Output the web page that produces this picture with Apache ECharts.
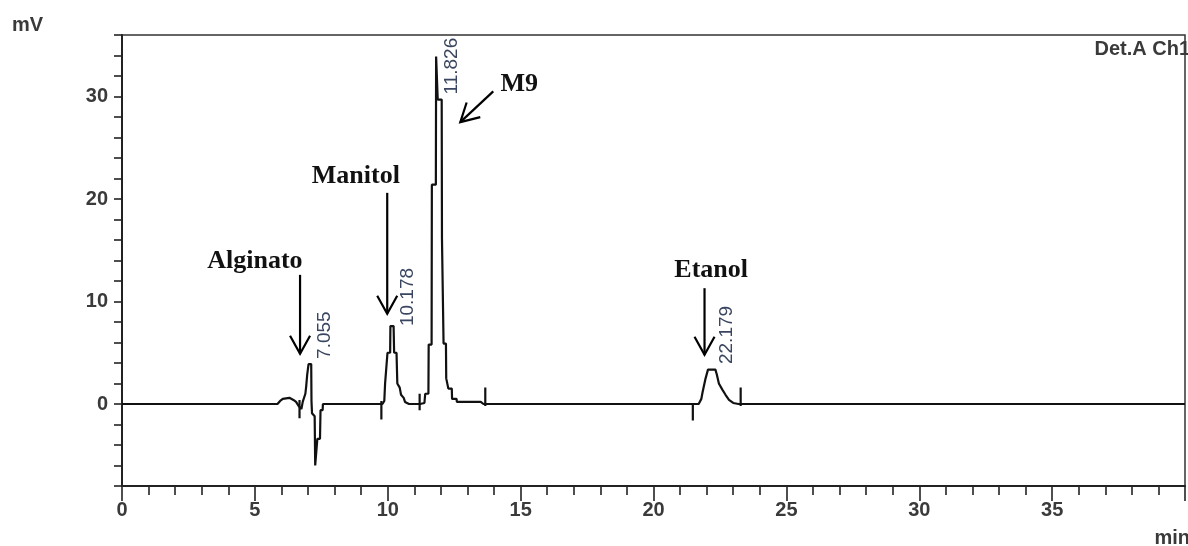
<!DOCTYPE html>
<html>
<head>
<meta charset="utf-8">
<script src="https://cdn.jsdelivr.net/npm/echarts@6/dist/echarts.min.js"></script>
<style>
html, body { margin: 0; padding: 0; background: #fff; }
#mainChart { width: 1188px; height: 546px; }
</style>
</head>
<body>
<div id="mainChart"></div>
<script>
// chromatogram trace (time in min, signal in mV)
var traceTime = [0, 5.85, 5.95, 6.05, 6.3, 6.45, 6.55, 6.65, 6.75, 6.8, 6.9, 6.93, 6.97, 7.0, 7.02, 7.12, 7.13, 7.15, 7.25, 7.27, 7.33, 7.35, 7.45, 7.47, 7.55, 7.56,
    9.8, 9.87, 9.9, 9.97, 9.99, 10.09, 10.1, 10.22, 10.24, 10.33, 10.36, 10.45, 10.5, 10.6, 10.65, 10.8,
    11.22, 11.38, 11.41, 11.53, 11.54, 11.65, 11.66, 11.81, 11.82, 11.87, 11.88, 12.03, 12.04, 12.09, 12.1, 12.19, 12.2, 12.27, 12.28, 12.41, 12.42, 12.59, 12.6, 13.5, 13.6,
    21.7, 21.8, 21.85, 21.95, 22.05, 22.33, 22.38, 22.46, 22.59, 22.71, 22.84, 23.0, 23.2, 40];
var traceSignal = [0, 0, 0.3, 0.5, 0.6, 0.4, 0.2, -0.2, -0.5, 0.2, 1.0, 1.7, 2.9, 3.0, 3.9, 3.9, 0.3, -0.9, -1.2, -6.0, -6.0, -3.4, -3.4, -0.6, -0.6, 0,
    0, 0.3, 2.0, 2.0, 5.0, 5.0, 7.6, 7.6, 5.0, 5.0, 2.0, 1.6, 0.9, 0.6, 0.2, 0,
    0, 0.1, 1.0, 1.0, 5.8, 5.8, 21.4, 21.4, 33.9, 33.9, 29.7, 29.7, 16.2, 16.2, 5.9, 5.9, 2.5, 2.5, 1.5, 1.5, 0.5, 0.5, 0.2, 0.2, 0,
    0, 0.5, 1.2, 2.4, 3.35, 3.35, 2.9, 2.0, 1.4, 0.9, 0.4, 0.1, 0, 0];

// integration markers (start / end of each peak)
var markerTime = [6.68, 9.76, 11.2, 13.67, 21.48, 23.28];
var markerHigh = [0.4, 0.3, 1.0, 1.6, 0, 1.6];
var markerLow = [-1.4, -1.5, -0.6, -0.2, -1.6, -0.2];

// retention times printed at the peaks
var peakTime = [7.055, 10.178, 11.826, 22.179];
var peakLabel = ['7.055', '10.178', '11.826', '22.179'];
var peakLabelBase = [4.4, 7.6, 30.2, 3.9];

// compound names and their arrows (data coordinates)
var compoundName = ['Alginato', 'Manitol', 'M9', 'Etanol'];
var compoundLabelAt = [[5.0, 13.9], [8.8, 22.2], [14.95, 31.2], [22.17, 13.0]];
var arrowFrom = [[6.7, 12.6], [9.98, 20.6], [13.97, 30.5], [21.92, 11.3]];
var arrowTo = [[6.7, 4.9], [9.98, 8.8], [12.73, 27.5], [21.92, 4.8]];

var xTicks = [0, 5, 10, 15, 20, 25, 30, 35];
var yTicks = [0, 10, 20, 30];

var traceData = [];
for (var i = 0; i < traceTime.length; i++) {
    traceData.push([traceTime[i], traceSignal[i]]);
}
var markerData = [];
for (var j = 0; j < markerTime.length; j++) {
    markerData.push([markerTime[j], markerHigh[j]]);
    markerData.push([markerTime[j], markerLow[j]]);
    markerData.push('-');
}

var myChart = echarts.init(document.getElementById('mainChart'));

var axisFont = 'Liberation Sans, Arial';
var option = {
    animation: false,
    grid: {
        left: 122, right: 2, top: 35, bottom: 60,
        show: true, borderColor: '#333', borderWidth: 1.5, backgroundColor: '#fff'
    },
    xAxis: {
        type: 'value', min: 0, max: 40, interval: 5,
        axisLine: { onZero: false, lineStyle: { color: '#222', width: 2 } },
        axisTick: { show: true, length: 15, lineStyle: { color: '#222', width: 1.6 } },
        minorTick: { show: true, splitNumber: 5, length: 9, lineStyle: { color: '#222', width: 1.6 } },
        splitLine: { show: false },
        axisLabel: {
            margin: 14, fontSize: 20, fontWeight: 'bold', color: '#3a3a3a', fontFamily: axisFont,
            formatter: function (v) { return xTicks.indexOf(v) > -1 ? String(v) : ''; }
        }
    },
    yAxis: {
        type: 'value', min: -8, max: 36, interval: 2,
        axisLine: { show: true, onZero: false, lineStyle: { color: '#222', width: 2 } },
        axisTick: { show: true, length: 8, lineStyle: { color: '#222', width: 1.6 } },
        splitLine: { show: false },
        axisLabel: {
            margin: 14, fontSize: 20, fontWeight: 'bold', color: '#3a3a3a', fontFamily: axisFont,
            formatter: function (v) { return yTicks.indexOf(v) > -1 ? String(v) : ''; }
        }
    },
    series: [
        {
            name: 'Det.A Ch1', type: 'line', data: traceData, showSymbol: false,
            lineStyle: { color: '#111', width: 2.2 }
        },
        {
            name: 'markers', type: 'line', data: markerData, showSymbol: false, connectNulls: false,
            lineStyle: { color: '#111', width: 2.2 }
        }
    ]
};
myChart.setOption(option);

// annotations placed from data coordinates
function toPx(p) {
    return myChart.convertToPixel({ gridIndex: 0 }, p);
}
function textStyle(text, font, fill, align) {
    return { text: text, font: font, fill: fill, align: align, verticalAlign: 'middle', textAlign: align, textVerticalAlign: 'middle' };
}
var graphics = [];
var textFont = 'bold 20px "Liberation Sans", Arial, sans-serif';
graphics.push({ type: 'text', x: 12, y: 25, style: textStyle('mV', textFont, '#3a3a3a', 'left') });
graphics.push({ type: 'text', x: 1190, y: 538, style: textStyle('min', textFont, '#3a3a3a', 'right') });
graphics.push({ type: 'text', x: 1190, y: 49, style: textStyle('Det.A Ch1', textFont, '#3a3a3a', 'right') });

for (var k = 0; k < peakTime.length; k++) {
    var pp = toPx([peakTime[k], peakLabelBase[k]]);
    graphics.push({
        type: 'text', x: pp[0] + 15, y: pp[1], rotation: Math.PI / 2,
        style: textStyle(peakLabel[k], '19px "Liberation Sans", Arial, sans-serif', '#3a4660', 'left')
    });
}

for (var m = 0; m < compoundName.length; m++) {
    var lp = toPx(compoundLabelAt[m]);
    graphics.push({
        type: 'text', x: lp[0], y: lp[1],
        style: textStyle(compoundName[m], 'bold 26px "Liberation Serif", serif', '#111', 'center')
    });
    var a = toPx(arrowFrom[m]);
    var b = toPx(arrowTo[m]);
    var dx = b[0] - a[0], dy = b[1] - a[1];
    var len = Math.sqrt(dx * dx + dy * dy);
    var ux = dx / len, uy = dy / len;
    var headLen = 18, headHalf = 10;
    var left = [b[0] - ux * headLen - uy * headHalf, b[1] - uy * headLen + ux * headHalf];
    var right = [b[0] - ux * headLen + uy * headHalf, b[1] - uy * headLen - ux * headHalf];
    graphics.push({ type: 'polyline', shape: { points: [a, b] }, style: { stroke: '#000', lineWidth: 2.2, fill: null } });
    graphics.push({ type: 'polyline', shape: { points: [left, b, right] }, style: { stroke: '#000', lineWidth: 2.2, fill: null } });
}

myChart.setOption({ graphic: graphics });
</script>
</body>
</html>
